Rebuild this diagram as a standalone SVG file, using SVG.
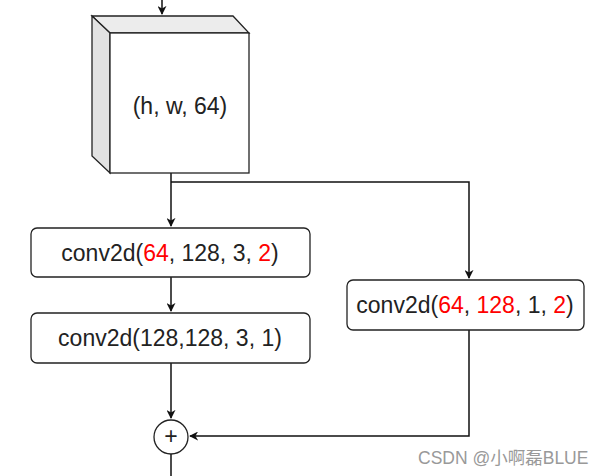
<svg xmlns="http://www.w3.org/2000/svg" width="605" height="476" viewBox="0 0 605 476">
<style>
.b{fill:#fff;stroke:#222;stroke-width:1.3}
.t{font-family:"Liberation Sans",Arial,sans-serif;font-size:23px;fill:#222}
.r{fill:#f00}
.l{fill:none;stroke:#111;stroke-width:1.5}
</style>
<defs><marker id="a" viewBox="0 0 10 10" refX="9" refY="5" markerWidth="9" markerHeight="9" markerUnits="userSpaceOnUse" orient="auto"><path d="M0,0L10,5L0,10L3,5z" fill="#111"/></marker></defs>
<rect width="605" height="476" fill="#fff"/>
<g id="connectors">
<path class="l" d="M162,0V14" marker-end="url(#a)"/>
<path class="l" d="M171,173V226" marker-end="url(#a)"/>
<path class="l" d="M171,182H469V278" marker-end="url(#a)"/>
<path class="l" d="M171,277V311" marker-end="url(#a)"/>
<path class="l" d="M171,363V418" marker-end="url(#a)"/>
<path class="l" d="M469,330V436H190" marker-end="url(#a)"/>
<path class="l" d="M171,454V476"/>
</g>
<g id="cube">
<path d="M92,16H233L249,33H110Z" fill="#ececec" stroke="#222" stroke-width="1.3"/>
<path d="M92,16L110,33V173L92,156Z" fill="#e2e2e2" stroke="#222" stroke-width="1.3"/>
<rect class="b" x="110" y="33" width="139" height="140"/>
<text class="t" x="180" y="114" text-anchor="middle">(h, w, 64)</text>
</g>
<g id="conv1">
<rect class="b" x="31" y="228" width="279" height="49" rx="6"/>
<text class="t" x="170" y="261" text-anchor="middle">conv2d(<tspan class="r">64</tspan>, 128, 3, <tspan class="r">2</tspan>)</text>
</g>
<g id="conv2">
<rect class="b" x="31" y="313" width="279" height="50" rx="6"/>
<text class="t" x="170" y="346" text-anchor="middle">conv2d(128,128, 3, 1)</text>
</g>
<g id="conv3">
<rect class="b" x="347" y="280" width="237" height="50" rx="6"/>
<text class="t" x="465" y="313" text-anchor="middle">conv2d(<tspan class="r">64</tspan>, <tspan class="r">128</tspan>, 1, <tspan class="r">2</tspan>)</text>
</g>
<g id="plus">
<circle class="b" cx="171" cy="437" r="17"/>
<text class="t" x="171" y="444" text-anchor="middle" font-size="18">+</text>
</g>
<text x="418" y="464" font-family="'Liberation Sans','Noto Sans CJK SC',sans-serif" font-size="17.5" fill="#999">CSDN @小啊磊BLUE</text>
</svg>
